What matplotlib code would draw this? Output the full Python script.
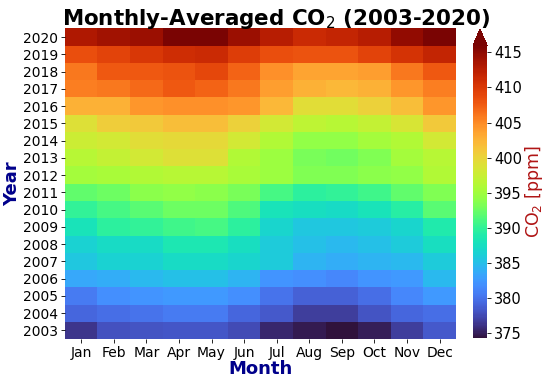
import numpy as np
import matplotlib
matplotlib.use("Agg")
import matplotlib.pyplot as plt

months = ["Jan", "Feb", "Mar", "Apr", "May", "Jun", "Jul", "Aug", "Sep", "Oct", "Nov", "Dec"]
years = list(range(2003, 2021))

co2_2003 = [376.4, 377.9, 378.1, 378.3, 378.3, 377.6, 375.6, 374.9, 374.3, 375.1, 376.8, 378.5]
co2_2004 = [379.3, 379.7, 380.1, 380.6, 380.6, 379.3, 378.5, 376.8, 376.8, 378.1, 379.3, 379.7]
co2_2005 = [380.6, 381.8, 382.2, 382.6, 382.6, 381.8, 380.1, 378.9, 378.9, 379.7, 381.4, 382.6]
co2_2006 = [383.5, 383.9, 384.7, 385.1, 385.1, 384.3, 382.2, 381.8, 381.4, 382.2, 382.6, 384.7]
co2_2007 = [385.6, 386.4, 386.4, 387.2, 387.2, 386.8, 386.0, 384.3, 383.9, 384.3, 384.7, 386.0]
co2_2008 = [386.4, 387.2, 387.2, 388.5, 388.5, 387.6, 386.0, 385.1, 384.7, 385.1, 386.0, 387.6]
co2_2009 = [388.1, 389.7, 390.1, 390.6, 391.0, 389.7, 386.8, 385.6, 385.6, 386.0, 386.8, 388.9]
co2_2010 = [390.1, 391.0, 391.8, 392.6, 392.6, 391.4, 388.1, 387.6, 387.2, 388.1, 389.3, 391.8]
co2_2011 = [392.2, 392.6, 393.9, 394.3, 393.9, 393.1, 391.0, 389.7, 390.1, 390.6, 392.2, 393.5]
co2_2012 = [395.2, 395.6, 396.0, 396.4, 396.4, 395.6, 394.7, 393.5, 393.5, 393.9, 394.3, 396.0]
co2_2013 = [396.4, 397.2, 398.1, 398.9, 398.9, 396.0, 394.7, 393.1, 392.8, 393.5, 395.2, 396.4]
co2_2014 = [397.7, 398.1, 399.3, 399.7, 399.7, 398.1, 396.0, 394.3, 394.3, 395.2, 396.0, 398.1]
co2_2015 = [398.9, 400.6, 401.0, 401.8, 401.8, 400.2, 398.1, 396.8, 396.4, 397.2, 398.5, 401.0]
co2_2016 = [402.7, 402.7, 404.3, 404.7, 404.7, 404.3, 402.2, 399.3, 399.3, 400.2, 401.8, 404.3]
co2_2017 = [405.6, 406.0, 406.8, 407.7, 407.2, 406.0, 403.9, 402.7, 402.2, 402.7, 404.3, 405.6]
co2_2018 = [406.0, 407.7, 407.7, 408.1, 408.9, 407.2, 404.7, 403.5, 403.5, 403.9, 406.0, 407.7]
co2_2019 = [408.5, 409.3, 410.2, 411.0, 411.4, 409.7, 408.5, 408.1, 408.1, 409.3, 410.6, 411.8]
co2_2020 = [413.1, 413.9, 414.3, 416.3, 416.5, 414.3, 412.7, 411.4, 411.8, 412.7, 414.7, 416.8]

data = np.array([co2_2003, co2_2004, co2_2005, co2_2006, co2_2007, co2_2008, co2_2009,
                 co2_2010, co2_2011, co2_2012, co2_2013, co2_2014, co2_2015, co2_2016,
                 co2_2017, co2_2018, co2_2019, co2_2020])

vmin, vmax = 374.3, 416.0

fig = plt.figure(figsize=(5.5, 3.84), dpi=100)
ax = fig.add_axes([0.118, 0.117, 0.711, 0.809])
cax = fig.add_axes([0.860, 0.119, 0.0255, 0.805])

mesh = ax.pcolormesh(np.arange(13), np.arange(19), data, cmap="turbo", vmin=vmin, vmax=vmax)
ax.set_xlim(0, 12)
ax.set_ylim(0, 18)
ax.set_xticks(np.arange(12) + 0.5)
ax.set_xticklabels(months, fontsize=10)
ax.set_yticks(np.arange(18) + 0.5)
ax.set_yticklabels([str(y) for y in years], fontsize=10)
for s in ax.spines.values():
    s.set_visible(False)
ax.tick_params(length=3, width=0.6, pad=2)

fig.text(0.502, 0.935, "Monthly-Averaged CO$_2$ (2003-2020)", fontsize=15.4,
         fontweight="bold", ha="center", va="baseline")
ax.set_xlabel("Month", fontsize=13, fontweight="bold", color="darkblue", labelpad=0)
ax.set_ylabel("Year", fontsize=13, fontweight="bold", color="darkblue", labelpad=1)

cb = fig.colorbar(mesh, cax=cax, extend="max", extendfrac=0.055)
cb.set_ticks([375, 380, 385, 390, 395, 400, 405, 410, 415])
cb.ax.tick_params(labelsize=10.5, length=3, width=0.6, pad=2)
cb.outline.set_visible(False)
cb.set_label("CO$_2$ [ppm]", fontsize=12.5, color="#b01515", labelpad=1)

fig.savefig("out.png", dpi=100)
